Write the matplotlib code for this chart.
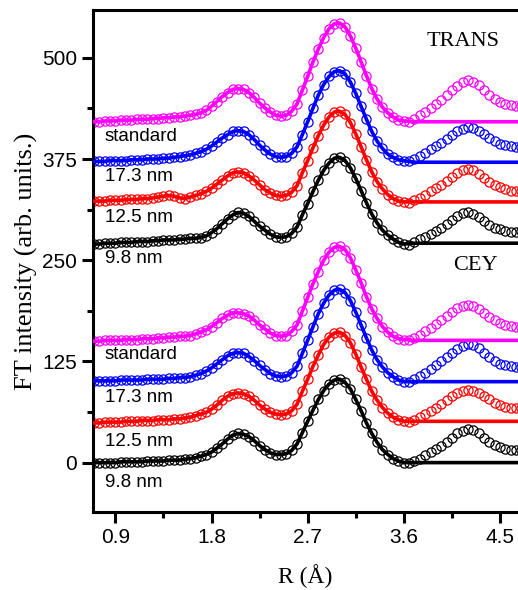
import numpy as np
import matplotlib
matplotlib.use("Agg")
import matplotlib.pyplot as plt

# R grid, 0.70 .. 4.70 step 0.05
r = np.round(np.arange(0.70, 4.7001, 0.05), 2)

# FT magnitude, relative to each curve's own offset
trans_98 = [0,0,1,1,1,2,2,2,3,3,3,4,4,5,5,5,6,6,7,7,8,
            10,14,19,25,31,36,39,38,34,28,22,17,12,9,8,
            9,13,21,36,50,65,79,91,100,106,107,103,94,81,66,51,37,26,17,11,6,2,0,
            -1,3,6,9,12,16,20,25,30,35,38,39,37,33,28,24,20,18,16,15,15,16]
trans_125 = [3,3,3,4,4,4,5,5,5,6,6,7,8,9,10,9,7,6,8,10,12,
             15,19,24,29,34,38,39,38,34,29,23,17,13,10,9,
             10,14,22,38,53,69,84,97,107,113,114,110,100,86,70,54,39,27,18,11,6,3,2,
             1,4,7,11,15,19,23,28,33,38,41,43,41,37,32,27,23,20,18,16,15,15]
trans_173 = [2,2,2,3,3,3,3,4,4,4,5,5,5,6,6,7,8,9,10,12,14,
             17,21,26,31,35,39,40,39,35,29,22,16,11,8,7,
             8,12,20,35,51,68,84,97,107,113,114,110,100,86,70,54,39,27,18,11,7,4,3,
             2,5,9,13,17,21,25,30,35,39,42,44,43,40,36,31,27,24,22,21,20,20]
trans_std = [1,1,2,2,2,3,3,3,4,4,4,5,5,6,6,7,7,8,9,10,12,
             15,20,26,32,37,41,42,41,37,31,24,18,13,9,8,
             9,14,23,40,57,75,91,105,116,122,123,118,107,92,75,58,42,29,19,12,7,3,2,
             1,5,9,13,18,23,28,34,40,45,50,52,50,46,40,34,29,25,23,22,21,21]

cey_98 = [0,0,0,0,0,1,1,1,1,1,2,2,2,2,3,3,3,4,5,6,8,
          10,13,18,23,29,34,36,35,32,27,21,16,12,10,10,
          11,15,23,37,51,65,78,89,97,102,103,99,91,78,64,49,36,25,16,10,5,2,0,
          -1,2,5,9,13,17,21,26,31,36,39,41,40,36,31,26,22,19,17,16,16,16]
cey_125 = [-1,-1,0,0,0,0,1,1,1,2,2,2,3,3,3,4,4,5,6,8,10,
           12,16,21,27,32,35,36,35,32,27,21,16,12,10,9,
           10,14,22,38,53,69,83,96,105,110,111,107,98,84,68,53,38,27,18,11,6,3,1,
           0,3,6,10,14,18,22,27,32,36,39,40,39,36,32,28,24,21,19,18,18,18]
cey_173 = [1,1,1,1,1,2,2,2,2,2,3,3,3,3,4,4,5,5,6,8,10,
           13,17,22,27,32,35,36,35,31,26,20,15,10,7,6,
           7,11,19,35,51,68,84,97,107,113,114,110,100,86,70,54,39,27,18,11,6,2,0,
           -1,3,7,11,16,20,25,30,35,40,44,46,45,41,36,31,26,22,20,19,18,18]
cey_std = [0,0,1,1,1,1,2,2,2,3,3,3,4,4,5,5,6,6,7,9,11,
           14,18,23,28,32,35,35,34,31,26,20,15,10,7,6,
           7,12,20,37,54,71,86,100,110,116,117,113,103,88,72,55,40,28,18,11,6,3,2,
           1,4,8,12,16,21,26,31,36,41,44,45,44,40,35,30,26,22,20,19,18,18]

# fit follows the data up to 3.6 A, then stays flat at this level
fit_cut = 3.60
fit_tail_r = [3.70, 4.70]
trans_fit_level = [1, 2, 1, 1]
cey_fit_level = [0, 1, 0, 1]

trans_offsets = [270, 320, 370, 420]
cey_offsets = [0, 50, 100, 150]
colors = ["black", "red", "blue", "magenta"]
sample_names = ["9.8 nm", "12.5 nm", "17.3 nm", "standard"]

trans_curves = [trans_98, trans_125, trans_173, trans_std]
cey_curves = [cey_98, cey_125, cey_173, cey_std]

fig = plt.figure(figsize=(5.18, 5.9), dpi=100)
ax = fig.add_axes([0.1795, 0.1322, 0.8205, 0.8508])

n_fit = int(np.sum(r <= fit_cut + 1e-9))

for curves, offsets, levels in [(trans_curves, trans_offsets, trans_fit_level),
                                (cey_curves, cey_offsets, cey_fit_level)]:
    for vals, off, lev, c in zip(curves, offsets, levels, colors):
        y = np.array(vals, dtype=float) + off
        ax.plot(r, y, linestyle="none", marker="o", markersize=6.6,
                markerfacecolor="none", markeredgecolor=c, markeredgewidth=0.9,
                zorder=2)
        fx = np.concatenate([r[:n_fit], fit_tail_r])
        fy = np.concatenate([y[:n_fit], [lev + off, lev + off]])
        ax.plot(fx, fy, color=c, linewidth=2.6, zorder=3)

# sample labels
label_x = 0.80
trans_label_y = [252, 303, 353, 403]
cey_label_y = [-24, 26, 80, 134]
for name, ty, cy in zip(sample_names, trans_label_y, cey_label_y):
    ax.text(label_x, ty, name, fontsize=13.5, family="Liberation Sans",
            va="center", ha="left")
    ax.text(label_x, cy, name, fontsize=13.5, family="Liberation Sans",
            va="center", ha="left")

ax.text(4.15, 520, "TRANS", fontsize=16, family="Liberation Serif",
        ha="center", va="center")
ax.text(4.27, 243, "CEY", fontsize=16, family="Liberation Serif",
        ha="center", va="center")

ax.set_xlim(0.69, 4.669)
ax.set_ylim(-61, 559)
ax.set_xticks([0.9, 1.8, 2.7, 3.6, 4.5])
ax.set_xticklabels(["0.9", "1.8", "2.7", "3.6", "4.5"])
ax.set_xticks([1.35, 2.25, 3.15, 4.05], minor=True)
ax.set_yticks([0, 125, 250, 375, 500])
ax.set_yticks([62.5, 187.5, 312.5, 437.5], minor=True)

for lab in ax.get_xticklabels() + ax.get_yticklabels():
    lab.set_family("Liberation Sans")
    lab.set_fontsize(15)

ax.tick_params(which="major", direction="out", length=8, width=2.2)
ax.tick_params(which="minor", direction="out", length=4.5, width=2.2)
ax.spines["right"].set_visible(False)
for s in ["left", "bottom", "top"]:
    ax.spines[s].set_linewidth(2.2)
ax.tick_params(top=False, right=False)

ax.set_xlabel("R (Å)", fontsize=17, family="Liberation Serif", labelpad=12)
ax.set_ylabel("FT intensity (arb. units.)", fontsize=19,
              family="Liberation Serif", labelpad=3)

fig.savefig("out.png", dpi=100)
